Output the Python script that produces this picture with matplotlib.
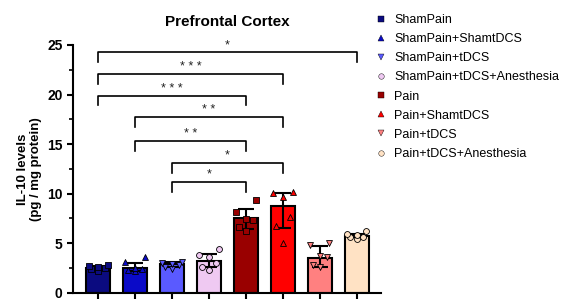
import numpy as np
import matplotlib.pyplot as plt
from matplotlib.lines import Line2D

plt.rcParams['font.family'] = ['Liberation Sans', 'DejaVu Sans']

# ── data ────────────────────────────────────────────────────────────────
groups = ["ShamPain", "ShamPain+ShamtDCS", "ShamPain+tDCS",
          "ShamPain+tDCS+Anesthesia", "Pain", "Pain+ShamtDCS",
          "Pain+tDCS", "Pain+tDCS+Anesthesia"]
means = [2.5, 2.45, 2.85, 3.15, 7.5, 8.7, 3.55, 5.75]
err_low = [0.25, 0.25, 0.25, 0.6, 1.1, 2.2, 0.95, 0.15]
err_high = [0.2, 0.55, 0.25, 0.75, 0.95, 1.4, 1.15, 0.15]
points = [
    [2.2, 2.4, 2.5, 2.6, 2.7, 2.8],
    [2.2, 2.3, 2.4, 2.5, 3.1, 3.6],
    [2.4, 2.6, 2.8, 2.9, 3.0, 3.1],
    [2.3, 2.6, 3.0, 3.6, 3.8, 4.4],
    [6.2, 6.6, 7.3, 7.4, 8.1, 9.4],
    [5.0, 6.7, 7.6, 9.7, 10.1, 10.2],
    [2.6, 2.8, 3.6, 3.7, 4.8, 5.0],
    [5.4, 5.6, 5.6, 5.8, 5.9, 6.2],
]
colors = ["#0b0b80", "#0a0ac8", "#5a5aff", "#efc9f2",
          "#990000", "#ff0000", "#ff8080", "#ffe2c4"]
markers = ["s", "^", "v", "o", "s", "^", "v", "o"]
# comparisons: (group a, group b, bracket height, label)
comparisons = [
    (0, 7, 24.3, "*"),
    (0, 5, 22.1, "* * *"),
    (0, 4, 19.9, "* * *"),
    (1, 5, 17.7, "* *"),
    (1, 4, 15.3, "* *"),
    (2, 5, 13.1, "*"),
    (2, 4, 11.2, "*"),
]

fig = plt.figure(figsize=(5.85, 3.01), dpi=100)
ax = fig.add_axes([0.1248, 0.0276, 0.5262, 0.8229])

x = np.arange(len(groups))
ax.bar(x, means, width=0.66, color=colors, edgecolor="black",
       linewidth=1.5, zorder=2)
ax.errorbar(x, means, yerr=[err_low, err_high], fmt="none", ecolor="black",
            elinewidth=1.5, capsize=6, capthick=1.5, zorder=4)

# horizontal scatter of the dots (sorted values), GraphPad-like
spread = np.array([0.0, -0.18, 0.18, 0.0, -0.26, 0.26])
for i, vals in enumerate(points):
    ax.scatter(x[i] + spread[:len(vals)], vals, marker=markers[i], s=18,
               facecolor=colors[i], edgecolor="black", linewidth=0.6,
               zorder=5)

for a, b, h, lab in comparisons:
    ax.plot([x[a], x[a], x[b], x[b]], [h - 1.0, h, h, h - 1.0],
            color="black", linewidth=1.2, zorder=3, clip_on=False)
    ax.text((x[a] + x[b]) / 2, h + 0.1, lab, ha="center", va="bottom",
            fontsize=9, color="#222222")

ax.set_xlim(-0.68, 7.65)
ax.set_ylim(0, 25)
ax.set_yticks([0, 5, 10, 15, 20, 25])
ax.set_yticks(np.arange(2.5, 25, 5), minor=True)
ax.set_xticks(x)
ax.set_xticklabels([])
ax.tick_params(axis="both", which="major", length=4, width=1.5)
ax.tick_params(axis="y", which="minor", length=3, width=1.2)
for lab in ax.get_yticklabels():
    lab.set_fontweight("bold")
    lab.set_fontsize(10)
for s in ["top", "right"]:
    ax.spines[s].set_visible(False)
for s in ["left", "bottom"]:
    ax.spines[s].set_linewidth(1.5)

ax.set_ylabel("IL-10 levels\n(pg / mg protein)", fontsize=9.5,
              fontweight="bold", linespacing=1.1)
ax.yaxis.set_label_coords(-0.10, 0.5)
ax.set_title("Prefrontal Cortex", fontsize=11, fontweight="bold", pad=14)

handles = [Line2D([], [], linestyle="none", marker=m, markersize=4,
                  markerfacecolor=c, markeredgecolor="black",
                  markeredgewidth=0.3)
           for m, c in zip(markers, colors)]
fig.legend(handles, groups, loc="upper left", bbox_to_anchor=(0.635, 0.97),
           frameon=False, fontsize=9, handlelength=0.8, handletextpad=0.6,
           labelspacing=0.57, borderaxespad=0)

fig.savefig("out.png", dpi=100)
